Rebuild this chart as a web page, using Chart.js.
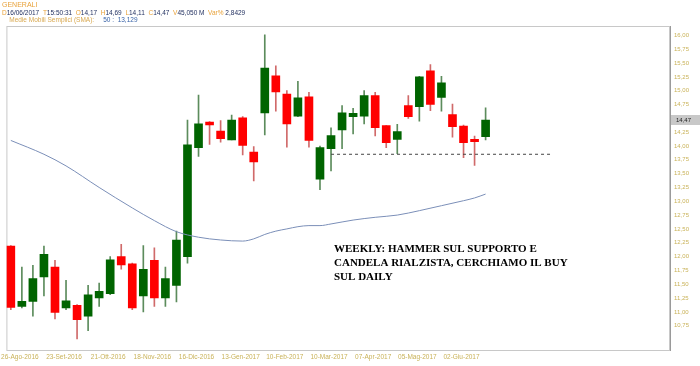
<!DOCTYPE html>
<html>
<head>
<meta charset="utf-8">
<script src="https://cdn.jsdelivr.net/npm/chart.js@4.4.1/dist/chart.umd.min.js"></script>
<style>
  body { margin: 0; background: #fff; }
  #wrap { position: relative; width: 700px; height: 366px; }
  #head { position: absolute; left: 2px; top: 1px; font-family: Arial, "Liberation Sans", sans-serif; font-size: 6.5px; line-height: 7.5px; }
  #head .t { font-size: 7px; }
  .o { color: #e8a23a; }
  .v { color: #1c2b5c; }
  .b { color: #3a64a8; }
  .m { color: #d8a850; }
</style>
</head>
<body>
<div id="wrap">
  <canvas id="c" width="700" height="366"></canvas>
  <div id="head">
    <div class="o t">GENERALI</div>
    <div><span class="o">D</span><span class="v">16/06/2017</span> &nbsp;<span class="o">T</span><span class="v">15:50:31</span> &nbsp;<span class="o">O</span><span class="v">14,17</span> &nbsp;<span class="o">H</span><span class="v">14,69</span> &nbsp;<span class="o">L</span><span class="v">14,11</span> &nbsp;<span class="o">C</span><span class="v">14,47</span> &nbsp;<span class="o">V</span><span class="v">45,050 M</span> &nbsp;<span class="o">Var%</span> <span class="v">2,8429</span></div>
    <div>&nbsp;&nbsp;&nbsp;&nbsp;<span class="m">Medie Mobili Semplici (SMA):</span> &nbsp;&nbsp;&nbsp;&nbsp;<span class="b">50 :</span> &nbsp;<span class="b">13,129</span></div>
  </div>
</div>
<script>
// candele settimanali GENERALI (19-Ago-2016 .. 16-Giu-2017)
const opens  = [12.19, 11.10, 11.19, 11.63, 11.81, 11.07, 11.12, 10.92, 11.25, 11.33, 12.00, 11.87, 11.29, 11.93, 11.25, 11.48, 12.00, 13.97, 14.43, 14.27, 14.11, 14.51, 13.89, 14.60, 15.27, 14.94, 14.54, 14.89, 13.40, 13.95, 14.29, 14.53, 14.54, 14.91, 14.37, 14.12, 14.73, 14.71, 15.36, 14.88, 14.57, 14.36, 14.12, 14.17];
const closes = [11.08, 11.19, 11.60, 12.04, 10.99, 11.20, 10.86, 11.31, 11.37, 11.94, 11.85, 11.07, 11.77, 11.25, 11.60, 12.30, 14.02, 14.40, 14.38, 14.13, 14.47, 14.01, 13.71, 15.41, 14.98, 14.40, 14.87, 14.10, 13.97, 14.19, 14.60, 14.59, 14.91, 14.33, 14.06, 14.26, 14.53, 15.25, 14.75, 15.14, 14.35, 14.06, 14.08, 14.47];
const highs  = [12.20, 11.81, 11.84, 12.19, 11.93, 11.57, 11.13, 11.48, 11.52, 12.00, 12.22, 11.88, 12.20, 12.16, 11.81, 12.46, 14.47, 14.92, 14.44, 14.46, 14.56, 14.53, 13.99, 16.01, 15.45, 15.00, 15.17, 14.97, 14.00, 14.33, 14.73, 14.68, 15.00, 14.97, 14.37, 14.39, 14.91, 15.26, 15.47, 15.26, 14.76, 14.38, 14.18, 14.69];
const lows   = [11.04, 11.07, 10.92, 11.29, 10.87, 11.04, 10.51, 10.66, 11.10, 11.31, 11.77, 11.04, 11.00, 11.10, 11.10, 11.18, 11.88, 13.81, 14.03, 14.07, 14.11, 13.84, 13.37, 14.20, 14.63, 13.98, 14.53, 13.98, 13.21, 13.55, 13.95, 14.22, 14.40, 14.18, 13.97, 13.86, 14.50, 14.45, 14.64, 14.63, 14.16, 13.79, 13.65, 14.11];

// media mobile semplice 50
const maIdx = [0, 3, 5, 8, 11, 13, 15, 17, 19, 21, 22, 23, 24, 25, 26, 27, 28, 29, 31, 33, 35, 37, 39, 41, 42, 43];
const maVal = [14.10, 13.85, 13.64, 13.25, 12.88, 12.65, 12.45, 12.35, 12.30, 12.28, 12.32, 12.40, 12.46, 12.50, 12.54, 12.56, 12.56, 12.59, 12.66, 12.71, 12.75, 12.83, 12.92, 13.01, 13.06, 13.13];

// supporto tratteggiato
const supportIdx = [29, 49];
const supportVal = [13.85, 13.85];

const xTickIdx = [1, 5, 9, 13, 17, 21, 25, 29, 33, 37, 41];
const xTickLabels = ["26-Ago-2016", "23-Set-2016", "21-Ott-2016", "18-Nov-2016", "16-Dic-2016", "13-Gen-2017", "10-Feb-2017", "10-Mar-2017", "07-Apr-2017", "05-Mag-2017", "02-Giu-2017"];
const yTicks = [10.75, 11.00, 11.25, 11.50, 11.75, 12.00, 12.25, 12.50, 12.75, 13.00, 13.25, 13.50, 13.75, 14.00, 14.25, 14.50, 14.75, 15.00, 15.25, 15.50, 15.75, 16.00];
const lastPrice = 14.47;
const noteLines = ["WEEKLY: HAMMER SUL SUPPORTO E", "CANDELA RIALZISTA, CERCHIAMO IL BUY", "SUL DAILY"];

const UP = "#006400", DOWN = "#ff0000";
const isUp = opens.map((o, i) => closes[i] >= o);
const fmt = v => v.toFixed(2).replace(".", ",");

const overlay = {
  id: "overlay",
  beforeDatasetsDraw(chart) {
    const { ctx, chartArea: a } = chart;
    ctx.save();
    ctx.strokeStyle = "#c8c8c8";
    ctx.lineWidth = 1;
    ctx.strokeRect(a.left + 0.5, a.top + 0.5, a.right - a.left - 1, a.bottom - a.top);
    ctx.strokeStyle = "#9a9a9a";
    ctx.beginPath();
    ctx.moveTo(a.right + 0.5, a.top);
    ctx.lineTo(a.right + 0.5, a.bottom + 1);
    ctx.stroke();
    ctx.restore();
  },
  afterDraw(chart) {
    const { ctx, chartArea: a, scales } = chart;
    ctx.save();
    // nota testuale
    ctx.fillStyle = "#000";
    ctx.font = "bold 11px 'Liberation Serif', 'DejaVu Serif', serif";
    ctx.textBaseline = "middle";
    noteLines.forEach((t, i) => ctx.fillText(t, 334, 249 + i * 14));
    // box ultimo prezzo
    const y = scales.y.getPixelForValue(lastPrice);
    ctx.fillStyle = "#c8c8c8";
    ctx.fillRect(a.right + 1, y - 5, 29, 10);
    ctx.fillStyle = "#222";
    ctx.font = "6px Arial, 'Liberation Sans', sans-serif";
    ctx.fillText(fmt(lastPrice), a.right + 6, y + 0.5);
    ctx.restore();
  }
};

new Chart(document.getElementById("c"), {
  type: "bar",
  data: {
    datasets: [
      {
        type: "line",
        data: maIdx.map((x, i) => ({ x, y: maVal[i] })),
        borderColor: "#7b8fb8",
        borderWidth: 1,
        pointRadius: 0,
        cubicInterpolationMode: "monotone",
        order: 0
      },
      {
        type: "line",
        data: supportIdx.map((x, i) => ({ x, y: supportVal[i] })),
        borderColor: "#444",
        borderWidth: 1,
        borderDash: [3, 3],
        pointRadius: 0,
        order: 0
      },
      {
        data: opens.map((o, i) => ({ x: i, y: [o, closes[i]] })),
        backgroundColor: isUp.map(u => (u ? UP : DOWN)),
        borderWidth: 0,
        barThickness: 8,
        grouped: false,
        order: 1
      },
      {
        data: lows.map((l, i) => ({ x: i, y: [l, highs[i]] })),
        backgroundColor: isUp.map(u => (u ? "#5c8c5c" : "#d06a6a")),
        borderWidth: 0,
        barThickness: 1,
        grouped: false,
        order: 2
      }
    ]
  },
  options: {
    responsive: false,
    animation: false,
    layout: { padding: { left: 3, top: 26, right: 0, bottom: 0 } },
    plugins: { legend: { display: false }, tooltip: { enabled: false } },
    scales: {
      x: {
        type: "linear",
        min: -0.4,
        max: 59.7,
        offset: false,
        grid: { display: false, drawTicks: false },
        border: { display: false },
        afterBuildTicks: s => { s.ticks = xTickIdx.map(v => ({ value: v })); },
        afterFit: s => { s.height = 16; },
        ticks: {
          autoSkip: false,
          maxRotation: 0,
          padding: 3,
          labelOffset: -2,
          color: "#c9b258",
          font: { family: "Arial, 'Liberation Sans', sans-serif", size: 6.5 },
          callback: (v, i) => xTickLabels[i]
        }
      },
      y: {
        position: "right",
        min: 10.31,
        max: 16.17,
        grid: { display: false, drawTicks: false },
        border: { display: false },
        afterBuildTicks: s => { s.ticks = yTicks.map(v => ({ value: v })); },
        afterFit: s => { s.width = 30; },
        ticks: {
          padding: 4,
          color: "#c9b258",
          font: { family: "Arial, 'Liberation Sans', sans-serif", size: 6 },
          callback: v => fmt(v)
        }
      }
    }
  },
  plugins: [overlay]
});
</script>
</body>
</html>
